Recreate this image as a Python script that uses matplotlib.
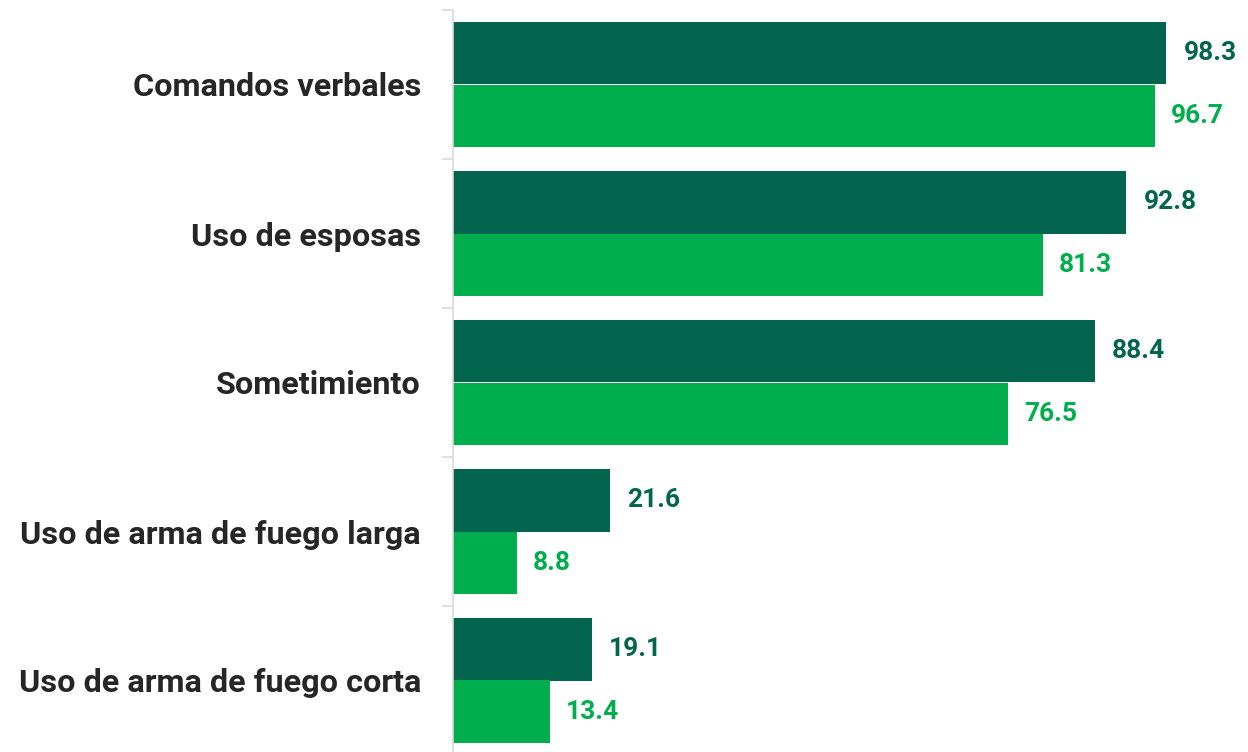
import matplotlib
matplotlib.use("Agg")
import matplotlib.pyplot as plt
import numpy as np

categories = ["Comandos verbales", "Uso de esposas", "Sometimiento",
              "Uso de arma de fuego larga", "Uso de arma de fuego corta"]
serie_a = [98.3, 92.8, 88.4, 21.6, 19.1]
serie_b = [96.7, 81.3, 76.5, 8.8, 13.4]

dark = "#04654F"
light = "#00AE4D"

plt.rcParams['font.family'] = ['Roboto', 'DejaVu Sans']

fig = plt.figure(figsize=(12.48, 7.52), dpi=100)
ax = fig.add_axes([453/1248, -3/752, (1215-453)/1248, 745/752])

y = np.arange(len(categories))
h = 0.418
ax.barh(y - h/2, serie_a, height=h, color=dark)
ax.barh(y + h/2, serie_b, height=h, color=light)

for yi, v in zip(y, serie_a):
    ax.annotate(f"{v:.1f}", (v, yi - h/2), xytext=(12.5, 0), textcoords="offset points",
                va="center", ha="left", fontsize=19, fontweight="bold", color=dark,
                annotation_clip=False)
for yi, v in zip(y, serie_b):
    ax.annotate(f"{v:.1f}", (v, yi + h/2), xytext=(11.5, 0), textcoords="offset points",
                va="center", ha="left", fontsize=19, fontweight="bold", color=light,
                annotation_clip=False)

ax.set_xlim(0, 105)
ax.set_ylim(len(categories) - 0.5, -0.5)

ax.set_yticks(y)
ax.set_yticklabels(categories, fontsize=23.3, fontweight="bold", color="#262626")
ax.tick_params(axis="y", which="major", length=0, pad=23)
ax.set_yticks(np.arange(len(categories) + 1) - 0.5, minor=True)
ax.tick_params(axis="y", which="minor", length=8, color="#D9D9D9", width=1.2, direction="out")
ax.set_xticks([])

for s in ["top", "right", "bottom"]:
    ax.spines[s].set_visible(False)
ax.spines["left"].set_color("#D9D9D9")
ax.spines["left"].set_linewidth(1.2)

fig.savefig("out.png", dpi=100)
